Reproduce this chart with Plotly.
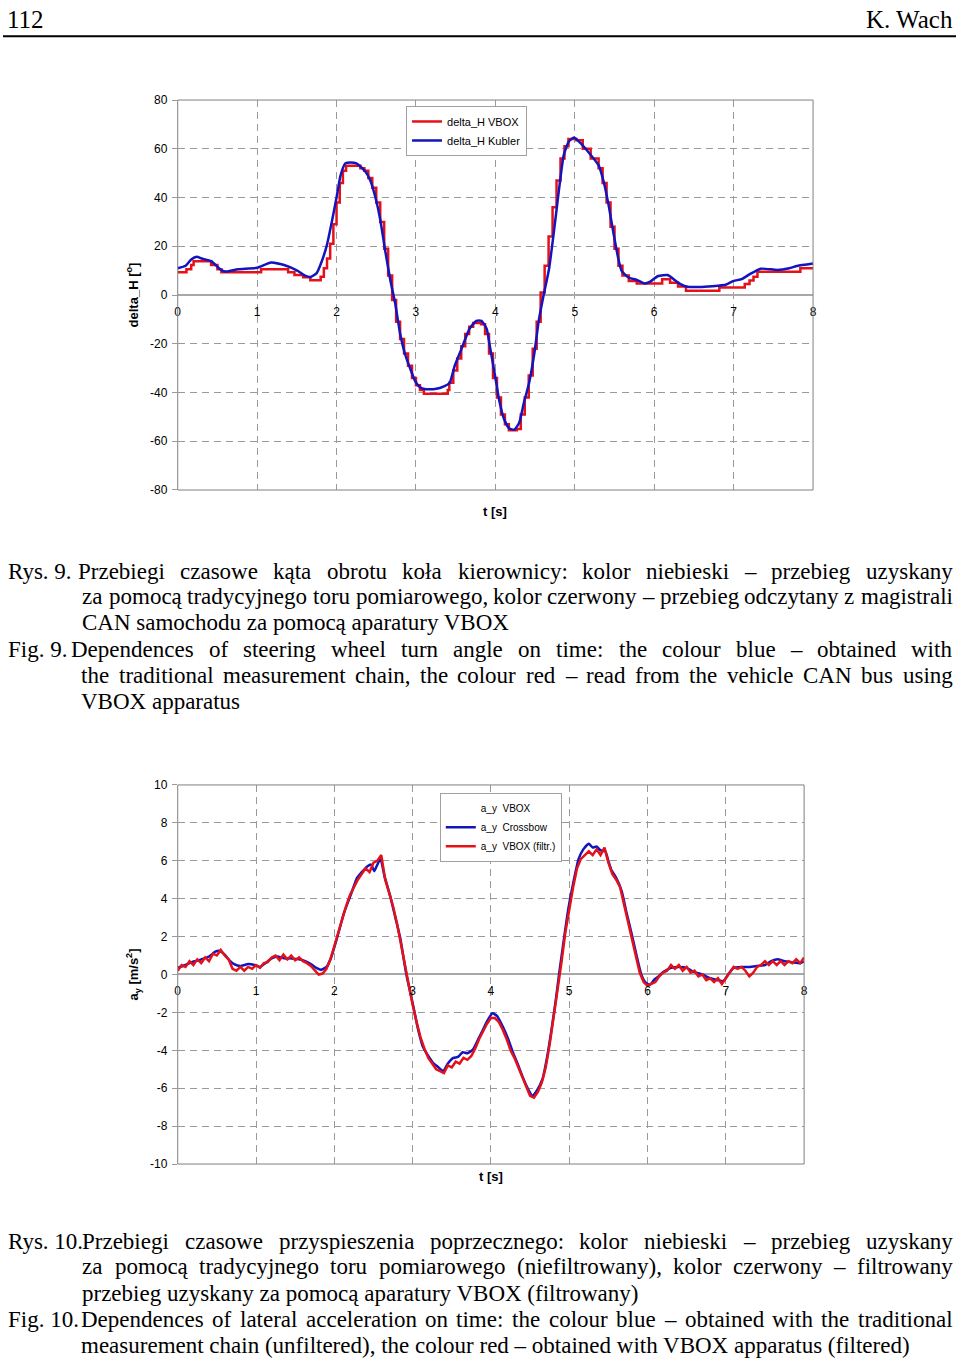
import plotly.graph_objects as go

W, H = 960, 1367


def px(x):
    return x / W


def py(y):
    return 1 - y / H


RED = "rgb(228,18,24)"
BLUE = "rgb(20,20,190)"
GRID = "#9a9a9a"
SANS = "Liberation Sans"
SERIF = "Liberation Serif"

# ---------------- chart 1: steering wheel angle ----------------
t1_kubler = [0, 0.1, 0.17, 0.24, 0.3, 0.42, 0.55, 0.61, 0.76, 1.0,
             1.175, 1.34, 1.51, 1.59, 1.675, 1.75, 1.8, 1.88, 1.94, 2.0,
             2.05, 2.11, 2.175, 2.25, 2.36, 2.425, 2.49, 2.55, 2.61, 2.675,
             2.74, 2.8, 2.86, 2.925, 2.99, 3.05, 3.11, 3.24, 3.36, 3.425,
             3.49, 3.55, 3.61, 3.675, 3.76, 3.825, 3.89, 3.925, 3.99, 4.05,
             4.11, 4.175, 4.24, 4.3, 4.36, 4.425, 4.49, 4.55, 4.61, 4.675,
             4.74, 4.8, 4.86, 4.925, 4.99, 5.05, 5.175, 5.3, 5.36, 5.425,
             5.49, 5.55, 5.59, 5.675, 5.78, 5.88, 5.95, 6.05, 6.17, 6.3,
             6.4, 6.6, 6.8, 6.9, 7.0, 7.1, 7.2, 7.34, 7.55, 7.7,
             7.8, 8.0]
d1_kubler = [11, 12, 14.6, 15.7, 15, 13.9, 10.2, 9.6, 10.6, 11.2,
             13.3, 12.3, 9.9, 8.2, 7.4, 9, 12.6, 20.7, 30, 40,
             49, 54, 54.4, 54, 50.8, 47, 40, 31, 18.7, 6.5,
             -3.7, -15.8, -24, -30, -35.3, -37.8, -38.6, -38.6, -37.4, -36,
             -28.8, -24, -19, -13.8, -10.6, -10.6, -13.8, -20, -32, -43.5,
             -51, -54.8, -55.2, -52.4, -44, -36, -24, -9.7, 0.4, 10.6,
             26.8, 43, 57.3, 63, 64.6, 63, 58.5, 53.2, 47, 37,
             24.8, 14.6, 9.9, 7.2, 6.2, 4.7, 5.5, 7.8, 8.2, 5.1,
             3.5, 3.3, 3.8, 4.2, 5.8, 6.5, 8.5, 10.8, 10.3, 11,
             11.9, 12.9]

t1_vbox = [0, 0.11, 0.17, 0.2, 0.42, 0.5, 0.55, 1.05, 1.39, 1.47,
           1.58, 1.67, 1.8, 1.84, 1.88, 1.92, 1.96, 2.0, 2.04, 2.08,
           2.12, 2.3, 2.35, 2.4, 2.45, 2.5, 2.55, 2.6, 2.65, 2.7,
           2.75, 2.8, 2.85, 2.9, 2.95, 3.0, 3.05, 3.1, 3.4, 3.42,
           3.47, 3.52, 3.57, 3.62, 3.67, 3.72, 3.82, 3.87, 3.92, 3.97,
           4.02, 4.07, 4.12, 4.17, 4.27, 4.32, 4.37, 4.42, 4.47, 4.52,
           4.57, 4.62, 4.67, 4.72, 4.77, 4.82, 4.87, 4.92, 5.02, 5.1,
           5.2, 5.3, 5.35, 5.4, 5.45, 5.5, 5.55, 5.6, 5.68, 5.78,
           6.1, 6.2, 6.3, 6.4, 6.82, 7.14, 7.2, 7.25, 7.3, 7.84, 8.0]
d1_vbox = [9.3, 10.6, 12.3, 13.9, 12.3, 10.6, 9.3, 10.6, 9.3, 8.2,
           7.3, 6.1, 7.5, 11, 15, 21, 29, 38, 46, 51,
           53, 52, 51, 48, 44, 38, 30, 19, 8, -2,
           -11, -18, -24, -29, -34, -37, -39, -40.5, -39, -36,
           -31, -26, -21, -16, -13, -11.5, -12, -16, -24, -34,
           -42, -49, -53, -55.5, -55, -49, -42, -33, -22, -11,
           1, 12, 24, 36, 47, 56, 61, 64, 63.5, 60,
           56, 52, 46, 38, 28, 19, 12, 8, 5.8, 4.7,
           6.5, 5, 3.5, 1.8, 3.1, 4.5, 6, 7.5, 9.5, 11, 11]

# ---------------- chart 2: lateral acceleration ----------------
t2_crossbow = [0.0, 0.1, 0.18, 0.3, 0.4, 0.48, 0.53, 0.6, 0.66, 0.72,
               0.8, 0.9, 0.98, 1.05, 1.12, 1.2, 1.27, 1.36, 1.45, 1.55,
               1.62, 1.7, 1.77, 1.83, 1.9, 1.96, 2.04, 2.12, 2.21, 2.29,
               2.35, 2.42, 2.47, 2.51, 2.55, 2.59, 2.64, 2.71, 2.78, 2.84,
               2.92, 3.01, 3.07, 3.13, 3.2, 3.26, 3.33, 3.39, 3.45, 3.52,
               3.58, 3.64, 3.7, 3.77, 3.84, 3.9, 3.96, 4.02, 4.08, 4.15,
               4.22, 4.28, 4.34, 4.4, 4.47, 4.53, 4.59, 4.66, 4.72, 4.78,
               4.83, 4.87, 4.93, 4.99, 5.05, 5.12, 5.18, 5.25, 5.3, 5.35,
               5.4, 5.46, 5.5, 5.54, 5.6, 5.67, 5.73, 5.8, 5.86, 5.92,
               5.97, 6.03, 6.08, 6.14, 6.2, 6.3, 6.4, 6.5, 6.58, 6.7,
               6.8, 6.9, 6.97, 7.03, 7.1, 7.2, 7.3, 7.4, 7.5, 7.58,
               7.66, 7.75, 7.85, 7.95, 8.0]
a2_crossbow = [0.36, 0.5, 0.65, 0.8, 0.95, 1.2, 1.25, 1.05, 0.75, 0.55,
               0.45, 0.55, 0.5, 0.4, 0.6, 0.85, 0.95, 0.85, 0.85, 0.8,
               0.72, 0.55, 0.35, 0.25, 0.4, 0.9, 2.0, 3.2, 4.2, 5.1,
               5.4, 5.7, 5.8, 5.45, 5.8, 6.1, 5.2, 4.2, 3.0, 1.96,
               0.0, -1.7, -2.9, -3.8, -4.3, -4.66, -4.9, -5.1, -4.7, -4.4,
               -4.35, -4.1, -4.15, -3.96, -3.4, -2.9, -2.4, -2.05, -2.2, -2.74,
               -3.4, -4.1, -4.7, -5.35, -6.0, -6.4, -6.1, -5.5, -4.3, -2.74,
               -1.3, 0.0, 1.8, 3.5, 4.8, 6.1, 6.6, 6.9, 6.7, 6.75,
               6.55, 6.5, 6.0, 5.5, 5.1, 4.4, 3.3, 2.1, 1.0, 0.0,
               -0.4, -0.55, -0.3, -0.1, 0.13, 0.35, 0.4, 0.35, 0.15, 0.0,
               -0.2, -0.3, -0.35, 0.0, 0.35, 0.4, 0.4, 0.45, 0.5, 0.7,
               0.8, 0.7, 0.65, 0.6, 0.7]

a2_vbox_filt = [0.2, 0.5, 0.4, 0.7, 0.5, 0.8, 0.6, 0.9, 0.7, 1.1,
                1.0, 1.3, 1.0, 0.8, 0.3, 0.2, 0.4, 0.2, 0.4, 0.3,
                0.5, 0.35, 0.6, 0.65, 0.9, 1.0, 0.75, 1.05, 0.8, 1.0,
                0.75, 0.9, 0.7, 0.6, 0.45, 0.2, 0.0, 0.05, 0.3, 0.8,
                1.5, 2.3, 3.0, 3.6, 4.2, 4.6, 5.0, 5.3, 5.6, 5.4,
                5.9, 6.0, 6.3, 5.0, 4.3, 3.6, 2.7, 1.6, 0.4, -0.7,
                -1.6, -2.5, -3.3, -3.9, -4.4, -4.7, -5.0, -5.1, -5.2, -4.8,
                -4.9, -4.6, -4.7, -4.4, -4.5, -4.3, -3.9, -3.4, -3.0, -2.6,
                -2.3, -2.3, -2.5, -2.9, -3.4, -4.0, -4.4, -4.9, -5.4, -6.0,
                -6.4, -6.5, -6.2, -5.7, -4.9, -3.7, -2.3, -0.8, 0.6, 2.2,
                3.5, 4.6, 5.6, 6.1, 6.3, 6.5, 6.3, 6.6, 6.3, 6.7,
                5.9, 5.3, 5.0, 4.6, 3.7, 2.8, 1.9, 0.9, 0.1, -0.4,
                -0.6, -0.5, -0.4, -0.1, 0.1, 0.2, 0.5, 0.3, 0.5, 0.2,
                0.4, 0.1, 0.2, -0.1, 0.0, -0.3, -0.2, -0.4, -0.2, -0.5,
                -0.2, 0.1, 0.4, 0.3, 0.4, 0.2, -0.1, 0.1, 0.4, 0.5,
                0.7, 0.5, 0.7, 0.5, 0.7, 0.5, 0.7, 0.6, 0.8, 0.6,
                0.9]
t2_vbox = [round(i * 0.05, 2) for i in range(len(a2_vbox_filt))]

x_ticks = [0, 1, 2, 3, 4, 5, 6, 7, 8]
y1_ticks = [-80, -60, -40, -20, 0, 20, 40, 60, 80]
y2_ticks = [-10, -8, -6, -4, -2, 0, 2, 4, 6, 8, 10]

# ---------------- page text ----------------
header_left = "112"
header_right = "K. Wach"

# (y centre, label, start x of body, body text, justified to right edge?)
caption_lines = [
    (570, "Rys. 9.", 76, "Przebiegi czasowe kąta obrotu koła kierownicy: kolor niebieski – przebieg uzyskany", True),
    (596, None, 80, "za pomocą tradycyjnego toru pomiarowego, kolor czerwony – przebieg odczytany z magistrali", True),
    (622, None, 80, "CAN samochodu za pomocą aparatury VBOX", False),
    (649, "Fig. 9.", 69, "Dependences of steering wheel turn angle on time: the colour blue – obtained with", True),
    (675, None, 79, "the traditional measurement chain, the colour red – read from the vehicle CAN bus using", True),
    (702, None, 79, "VBOX apparatus", False),
    (1247, "Rys. 10.", 80, "Przebiegi czasowe przyspieszenia poprzecznego: kolor niebieski – przebieg uzyskany", True),
    (1273, None, 80, "za pomocą tradycyjnego toru pomiarowego (niefiltrowany), kolor czerwony – filtrowany", True),
    (1300, None, 80, "przebieg uzyskany za pomocą aparatury VBOX (filtrowany)", False),
    (1326, "Fig. 10.", 79, "Dependences of lateral acceleration on time: the colour blue – obtained with the traditional", True),
    (1352, None, 79, "measurement chain (unfiltered), the colour red – obtained with VBOX apparatus (filtered)", False),
]

# Times-compatible advance widths (per 1000 em) used to justify caption lines
TW = {c: w for c, w in zip("abcdefghijklmnopqrstuvwxyz",
                           [444, 500, 444, 500, 444, 333, 500, 500, 278, 278, 500, 278, 778,
                            500, 500, 500, 500, 333, 389, 278, 500, 500, 722, 500, 500, 444])}
TW.update({c: w for c, w in zip("ABCDEFGHIJKLMNOPQRSTUVWXYZ",
                                [722, 667, 667, 722, 611, 556, 722, 722, 333, 389, 722, 611, 889,
                                 722, 722, 556, 722, 667, 556, 611, 722, 722, 944, 722, 722, 611])})
TW.update({"ą": 444, "ł": 278, ".": 250, ",": 250, ":": 278, "(": 333, ")": 333,
           "–": 500, " ": 250})
for d in "0123456789":
    TW[d] = 500

CAP_SIZE = 23
RIGHT_EDGE = 956


def tw(s, size=CAP_SIZE):
    return sum(TW.get(c, 500) for c in s) * size / 1000.0


fig = go.Figure()

# chart 1 traces
fig.add_trace(go.Scatter(x=t1_vbox, y=d1_vbox, mode="lines", name="delta_H VBOX",
                         line=dict(color=RED, width=2.5, shape="hv"),
                         xaxis="x", yaxis="y", legend="legend"))
fig.add_trace(go.Scatter(x=t1_kubler, y=d1_kubler, mode="lines", name="delta_H Kubler",
                         line=dict(color=BLUE, width=2.5, shape="spline", smoothing=0.5),
                         xaxis="x", yaxis="y", legend="legend"))

# chart 2 traces
fig.add_trace(go.Scatter(x=[None], y=[None], mode="lines", name="a_y\u00a0\u00a0VBOX",
                         line=dict(color="rgba(0,0,0,0)", width=2),
                         xaxis="x2", yaxis="y2", legend="legend2"))
fig.add_trace(go.Scatter(x=t2_crossbow, y=a2_crossbow, mode="lines",
                         name="a_y\u00a0\u00a0Crossbow",
                         line=dict(color=BLUE, width=2.5, shape="spline", smoothing=0.5),
                         xaxis="x2", yaxis="y2", legend="legend2"))
fig.add_trace(go.Scatter(x=t2_vbox, y=a2_vbox_filt, mode="lines",
                         name="a_y\u00a0\u00a0VBOX (filtr.)",
                         line=dict(color=RED, width=2.5),
                         xaxis="x2", yaxis="y2", legend="legend2"))

y1_dom = [py(488), py(94)]
y2_dom = [py(1169), py(786)]
pos1 = y1_dom[0] + (0 - y1_ticks[0]) / (y1_ticks[-1] - y1_ticks[0]) * (y1_dom[1] - y1_dom[0])
pos2 = y2_dom[0] + (0 - y2_ticks[0]) / (y2_ticks[-1] - y2_ticks[0]) * (y2_dom[1] - y2_dom[0])

grid_kw = dict(showgrid=True, gridcolor=GRID, gridwidth=1, griddash="7px,5px")
tick_font = dict(family=SANS, size=12, color="black")

xcommon = dict(range=[x_ticks[0], x_ticks[-1]], tickvals=x_ticks,
               ticktext=[str(v) for v in x_ticks], anchor="free",
               showline=False, zeroline=False, ticks="", tickfont=tick_font,
               ticklabelstandoff=8, **grid_kw)
ycommon = dict(showline=False, zeroline=True, zerolinecolor="#a8a8a8", zerolinewidth=2,
               ticks="outside", ticklen=5, tickcolor=GRID, tickfont=tick_font,
               ticklabelstandoff=2, **grid_kw)

fig.update_layout(
    autosize=True,
    margin=dict(l=0, r=0, t=0, b=0, pad=0),
    paper_bgcolor="white", plot_bgcolor="white",
    xaxis=dict(domain=[px(176), px(816)], position=pos1, **xcommon),
    yaxis=dict(domain=y1_dom, range=[y1_ticks[0], y1_ticks[-1]], tickvals=y1_ticks,
               ticktext=[str(v) for v in y1_ticks], anchor="x",
               title=dict(text="<b>delta_H [<sup>o</sup>]</b>",
                          font=dict(family=SANS, size=13, color="black"), standoff=8),
               **ycommon),
    xaxis2=dict(domain=[px(176), px(807)], position=pos2, **xcommon),
    yaxis2=dict(domain=y2_dom, range=[y2_ticks[0], y2_ticks[-1]], tickvals=y2_ticks,
                ticktext=[str(v) for v in y2_ticks], anchor="x2",
                title=dict(text="<b>a<sub>y</sub> [m/s<sup>2</sup>]</b>",
                           font=dict(family=SANS, size=13, color="black"), standoff=8),
                **ycommon),
    legend=dict(x=px(406), y=py(100), xanchor="left", yanchor="top",
                bgcolor="white", bordercolor="#a0a0a0", borderwidth=1,
                font=dict(family=SANS, size=11, color="black"),
                itemwidth=30, tracegroupgap=0),
    legend2=dict(x=px(440), y=py(794), xanchor="left", yanchor="top",
                 bgcolor="white", bordercolor="#a0a0a0", borderwidth=1,
                 font=dict(family=SANS, size=10, color="black"),
                 itemwidth=30, tracegroupgap=0),
    showlegend=True,
)

shapes = [
    dict(type="rect", xref="x domain", yref="y domain", x0=0, x1=1, y0=0, y1=1,
         line=dict(color="#808080", width=1)),
    dict(type="rect", xref="x2 domain", yref="y2 domain", x0=0, x1=1, y0=0, y1=1,
         line=dict(color="#808080", width=1)),
    dict(type="line", xref="paper", yref="paper", x0=0, x1=1, y0=py(29.5), y1=py(29.5),
         line=dict(color="black", width=2)),
]
fig.update_layout(shapes=shapes)


def text_ann(text, x, y, size, family, xanchor="left"):
    return dict(text=text, x=px(x), y=py(y), xref="paper", yref="paper",
                xanchor=xanchor, yanchor="middle", showarrow=False,
                borderpad=0, borderwidth=0,
                font=dict(family=family, size=size, color="black"))


annotations = [
    dict(text="<b>t [s]</b>", x=px(496), y=py(510), xref="paper", yref="paper",
         showarrow=False, font=dict(family=SANS, size=13, color="black")),
    dict(text="<b>t [s]</b>", x=px(492), y=py(1191), xref="paper", yref="paper",
         showarrow=False, font=dict(family=SANS, size=13, color="black")),
    text_ann(header_left, 4, 13, 25, SERIF),
    text_ann(header_right, 957, 13, 25, SERIF, xanchor="right"),
]
for ycap, label, x0, body, justify in caption_lines:
    if label:
        annotations.append(text_ann(label, 5, ycap, CAP_SIZE, SERIF))
    if not justify:
        annotations.append(text_ann(body, x0, ycap, CAP_SIZE, SERIF))
        continue
    words = body.split(" ")
    widths = [tw(w) for w in words]
    gap = (RIGHT_EDGE - x0 - sum(widths)) / (len(words) - 1)
    xw = x0
    for w, wd in zip(words, widths):
        annotations.append(text_ann(w, xw, ycap, CAP_SIZE, SERIF))
        xw += wd + gap
fig.update_layout(annotations=annotations)

fig.write_html("out.html", config={"displayModeBar": False},
               default_width="960px",
               default_height="1367px; position:absolute; left:0px; top:0px")
